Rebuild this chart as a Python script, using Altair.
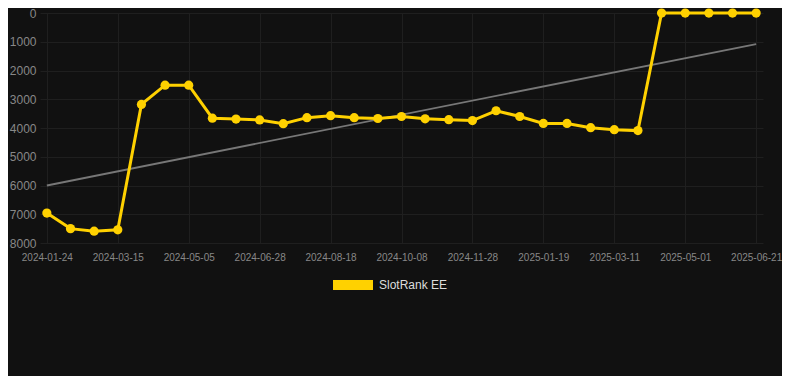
import altair as alt
import pandas as pd

dates = [
    "2024-01-24", "2024-02-10", "2024-02-27", "2024-03-15", "2024-04-01",
    "2024-04-18", "2024-05-05", "2024-05-23", "2024-06-10", "2024-06-28",
    "2024-07-15", "2024-08-01", "2024-08-18", "2024-09-04", "2024-09-21",
    "2024-10-08", "2024-10-25", "2024-11-11", "2024-11-28", "2024-12-15",
    "2025-01-01", "2025-01-19", "2025-02-05", "2025-02-22", "2025-03-11",
    "2025-03-28", "2025-04-14", "2025-05-01", "2025-05-18", "2025-06-04",
    "2025-06-21",
]
ranks = [
    6960, 7500, 7590, 7540, 3180, 2510, 2510, 3660, 3690, 3720,
    3850, 3640, 3570, 3640, 3670, 3600, 3680, 3710, 3740, 3400,
    3600, 3840, 3840, 3990, 4060, 4090, 1, 1, 1, 1,
    1,
]
tick_dates = dates[::3]
trend_dates = [dates[0], dates[-1]]
trend_values = [6000, 1080]
series_name = "SlotRank EE"

df = pd.DataFrame({"date": dates, "rank": ranks, "series": series_name})
tdf = pd.DataFrame({"date": trend_dates, "rank": trend_values})

YELLOW = "#FFD100"
GRID = "#1f1f1f"

x_enc = alt.X(
    "date:N", sort=dates,
    scale=alt.Scale(type="point", domain=dates, padding=0.29),
    axis=alt.Axis(values=tick_dates, title=None, labelAngle=0, ticks=False,
                  domain=False, labelPadding=9, labelFontSize=10,
                  labelColor="#888888", gridColor=GRID, grid=True,
                  labelFont="Arial"),
)
y_enc = alt.Y(
    "rank:Q",
    scale=alt.Scale(domain=[0, 8000], reverse=True, nice=False, zero=False),
    axis=alt.Axis(values=list(range(0, 8001, 1000)), format="d", title=None,
                  ticks=False, domain=False, labelPadding=4, labelFontSize=12,
                  labelColor="#888888", gridColor=GRID, grid=True,
                  labelFlush=False, labelFont="Arial"),
)

trend = alt.Chart(tdf).mark_line(color="#777777", strokeWidth=1.8).encode(
    x=x_enc, y=y_enc
)

color = alt.Color(
    "series:N",
    scale=alt.Scale(domain=[series_name], range=[YELLOW]),
    legend=alt.Legend(
        title=None, orient="none", legendX=303, legendY=262,
        symbolType="M-2,-0.5L2,-0.5L2,0.5L-2,0.5Z", symbolSize=400,
        symbolStrokeWidth=0, symbolFillColor=YELLOW, symbolOpacity=1,
        labelColor="#dddddd", labelFontSize=12, labelFont="Arial",
        padding=0, labelOffset=16,
    ),
)

line = alt.Chart(df).mark_line(strokeWidth=3).encode(x=x_enc, y=y_enc, color=color)
pts = alt.Chart(df).mark_circle(size=85, opacity=1).encode(
    x=x_enc, y=y_enc,
    color=alt.Color("series:N", scale=alt.Scale(domain=[series_name], range=[YELLOW]), legend=None),
)

chart = (
    alt.layer(trend, line, pts)
    .properties(
        width=723, height=230,
        background="#111111",
        padding={"left": 32, "top": 5, "right": 19, "bottom": 133},
        autosize=alt.AutoSizeParams(type="none"),
    )
    .configure_view(stroke=None)
)

chart.save("out.html", embed_options={"renderer": "svg", "actions": False})
